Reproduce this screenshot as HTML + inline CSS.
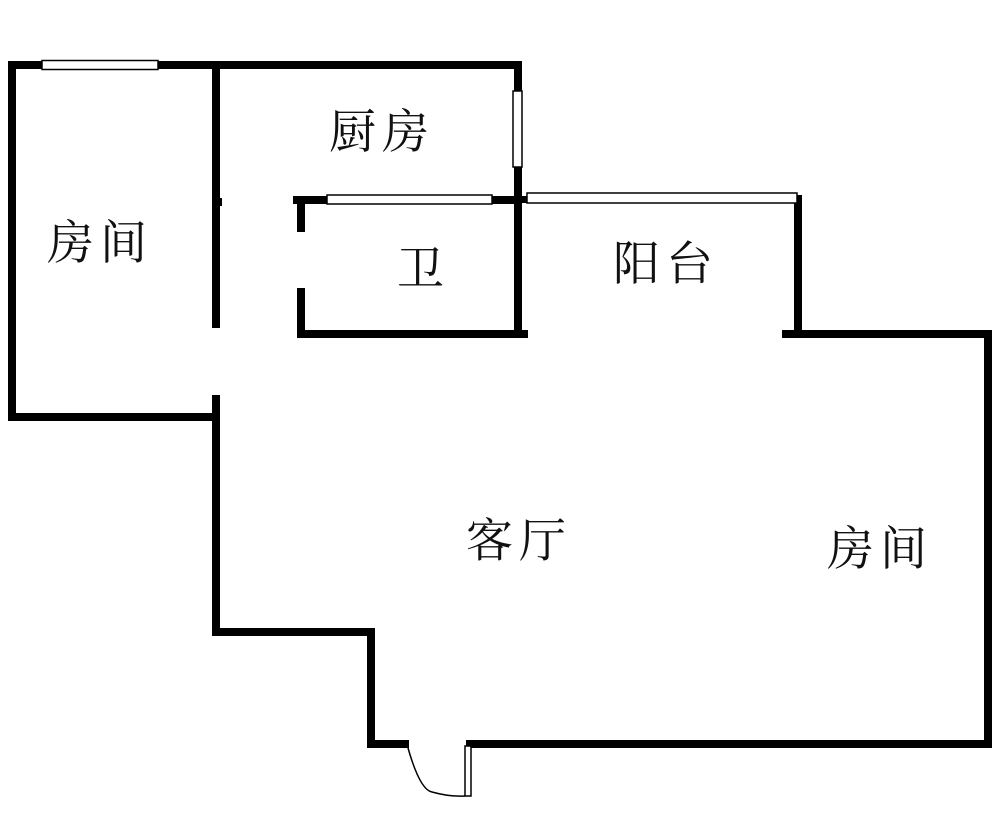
<!DOCTYPE html>
<html><head><meta charset="utf-8"><style>
html,body{margin:0;padding:0;background:#fff;}
svg{display:block;}
text{font-family:"Liberation Serif","Noto Serif CJK SC","Noto Sans CJK SC",serif;font-size:47px;letter-spacing:6px;fill:#111;}
</style></head><body>
<svg width="1000" height="815" viewBox="0 0 1000 815" xmlns="http://www.w3.org/2000/svg">
<g fill="#000">
<rect x="8" y="61" width="8" height="360"/>
<rect x="8" y="61" width="514" height="8"/>
<rect x="8" y="413" width="212" height="8"/>
<rect x="212" y="61" width="8" height="267"/>
<rect x="212" y="198" width="10" height="8"/>
<rect x="514" y="61" width="8" height="277"/>
<rect x="293" y="196" width="229" height="8"/>
<rect x="297" y="196" width="8" height="36"/>
<rect x="297" y="288" width="8" height="50"/>
<rect x="297" y="330" width="231" height="8"/>
<rect x="522" y="196" width="10" height="7"/>
<rect x="794" y="195" width="8" height="143"/>
<rect x="782" y="330" width="210" height="8"/>
<rect x="984" y="330" width="8" height="418"/>
<rect x="466" y="740" width="526" height="8"/>
<rect x="212" y="395" width="8" height="241"/>
<rect x="212" y="628" width="163" height="8"/>
<rect x="367" y="628" width="8" height="120"/>
<rect x="367" y="740" width="42" height="8"/>
</g>
<g fill="#fff" stroke="#000" stroke-width="1.5">
<rect x="42" y="60.5" width="116" height="9"/>
<rect x="513" y="91" width="9" height="76"/>
<rect x="327" y="195" width="165" height="9"/>
<rect x="527" y="193" width="270" height="10"/>
</g>
<rect x="465" y="746" width="6" height="50" fill="#fff" stroke="#000" stroke-width="1.5"/>
<path d="M408 748 Q420 790 432 792 Q450 797 465 796" fill="none" stroke="#000" stroke-width="1.5"/>
<text x="47" y="259">房间</text>
<text x="329" y="148">厨房</text>
<text x="397" y="285">卫</text>
<text x="613" y="280">阳台</text>
<text x="466" y="557">客厅</text>
<text x="827" y="565">房间</text>
</svg>
</body></html>
